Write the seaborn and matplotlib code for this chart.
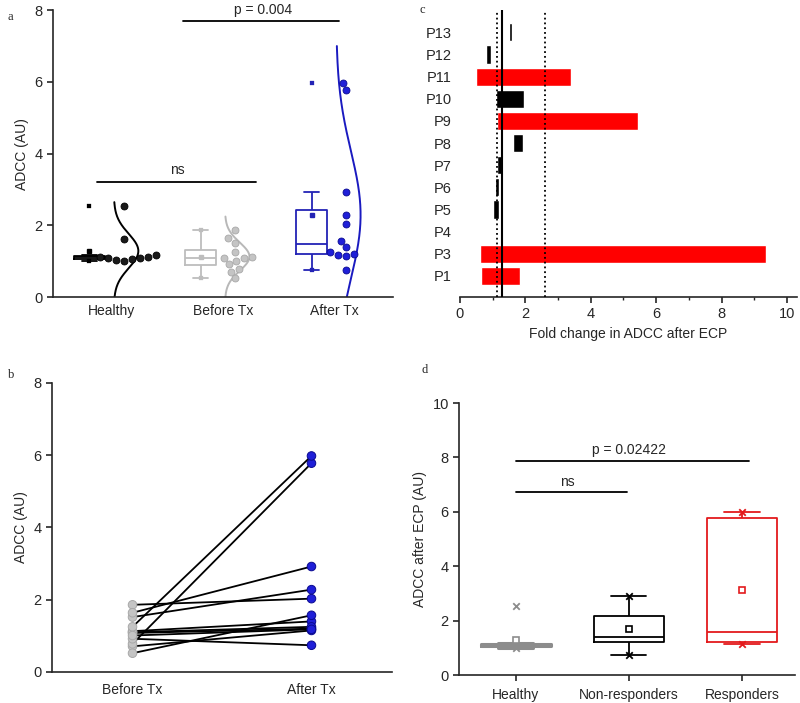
import numpy as np
import pandas as pd
import matplotlib
matplotlib.use('Agg')
import matplotlib.pyplot as plt
import seaborn as sns

# --- data ---
groups_a = ['Healthy', 'Before Tx', 'After Tx']
healthy = [2.55, 1.62, 1.13, 1.08, 1.03, 1.16, 1.12, 1.05, 1.10, 1.00]

patients = ['P1', 'P3', 'P4', 'P5', 'P6', 'P7', 'P8', 'P9', 'P10', 'P11', 'P12', 'P13']
before_tx = [0.71, 0.78, 1.08, 1.86, 1.13, 1.10, 1.52, 1.25, 1.64, 0.52, 0.92, 1.01]
after_tx = [1.15, 5.78, 1.20, 2.03, 1.40, 1.25, 2.28, 5.98, 2.92, 1.57, 0.74, 1.18]
responder = [True, True, True, False, False, False, False, True, False, True, False, False]

# panel c: floating bars of fold change
fc_start = [0.65, 0.62, 1.10, 1.00, 1.07, 1.12, 1.61, 1.14, 1.10, 0.49, 0.81, 1.51]
fc_end = [1.85, 9.36, 1.13, 1.18, 1.19, 1.30, 1.92, 5.43, 1.95, 3.40, 0.94, 1.60]
fc_dotted = [1.13, 2.6]

groups_d = ['Healthy', 'Non-responders', 'Responders']

sns.set_style('ticks')
plt.rcParams['font.family'] = ['Liberation Sans', 'DejaVu Sans']
plt.rcParams['axes.linewidth'] = 1.2

fig = plt.figure(figsize=(8, 7.03), dpi=100)
ax_a = fig.add_axes([0.066, 0.5775, 0.425, 0.408])
ax_c = fig.add_axes([0.575, 0.5775, 0.421, 0.408])
ax_b = fig.add_axes([0.065, 0.0441, 0.425, 0.4111])
ax_d = fig.add_axes([0.574, 0.0398, 0.42, 0.3869])

# ---------------- panel a ----------------
df_a = pd.DataFrame({
    'group': ['Healthy'] * len(healthy) + ['Before Tx'] * len(before_tx) + ['After Tx'] * len(after_tx),
    'value': healthy + before_tx + after_tx,
})
pos_a = {g: i + 1 for i, g in enumerate(groups_a)}
df_a['pos'] = df_a['group'].map(pos_a)
box_col = {'Healthy': 'black', 'Before Tx': '#bdbdbd', 'After Tx': '#2323b5'}
pt_col = {'Healthy': '#1a1a1a', 'Before Tx': '#c4c4c4', 'After Tx': '#1f1fd8'}
pt_edge = {'Healthy': '#000000', 'Before Tx': '#a8a8a8', 'After Tx': '#0a0a90'}
curve_col = {'Healthy': 'black', 'Before Tx': '#b8b8b8', 'After Tx': '#1a1ac0'}

for g in groups_a:
    sub = df_a[df_a['group'] == g].copy()
    sub['xbox'] = sub['pos'] - 0.2
    sub['xpt'] = sub['pos'] + 0.11
    c = box_col[g]
    sns.boxplot(data=sub, x='xbox', y='value', native_scale=True, fill=False,
                color=c, width=0.28, linewidth=1.3, showfliers=False,
                showmeans=True,
                meanprops=dict(marker='s', markersize=2.5, markerfacecolor=c,
                               markeredgecolor=c),
                ax=ax_a)
    ext = pd.DataFrame({'x': [sub['xbox'].iloc[0]] * 2,
                        'y': [sub['value'].min(), sub['value'].max()]})
    sns.scatterplot(data=ext, x='x', y='y', marker='s', s=6, color=c,
                    edgecolor=c, ax=ax_a, zorder=3)
    # normal distribution curve from the group's mean / sd
    m, s = sub['value'].mean(), sub['value'].std()
    yy = np.linspace(max(0, m - 2.85 * s), min(7.0, m + 2.85 * s), 200)
    xx = sub['pos'].iloc[0] + 0.02 + 0.22 * np.exp(-0.5 * ((yy - m) / s) ** 2)
    ax_a.plot(xx, yy, color=curve_col[g], lw=1.4, zorder=2)
    sns.swarmplot(data=sub, x='xpt', y='value', native_scale=True,
                  color=pt_col[g], edgecolor=pt_edge[g], linewidth=0.6,
                  size=5.0, ax=ax_a, zorder=4)

ax_a.set_xlim(0.47, 3.53)
ax_a.set_ylim(0, 8)
ax_a.set_yticks([0, 2, 4, 6, 8])
ax_a.set_xticks([1, 2, 3])
ax_a.set_xticklabels(groups_a)
ax_a.tick_params(axis='x', length=0, labelsize=10, pad=5)
ax_a.tick_params(axis='y', length=4, width=1.2, labelsize=10.5)
ax_a.set_xlabel('')
ax_a.set_ylabel('ADCC (AU)', fontsize=10)
sns.despine(ax=ax_a)
ax_a.plot([0.87, 2.30], [3.2, 3.2], color='black', lw=1.3, clip_on=False)
ax_a.text(1.59, 3.35, 'ns', ha='center', va='bottom', fontsize=10)
ax_a.plot([1.64, 3.05], [7.7, 7.7], color='black', lw=1.3, clip_on=False)
ax_a.text(2.36, 7.82, 'p = 0.004', ha='center', va='bottom', fontsize=10)

# ---------------- panel b ----------------
df_b = pd.DataFrame({
    'patient': patients * 2,
    'stage': ['Before Tx'] * len(patients) + ['After Tx'] * len(patients),
    'value': before_tx + after_tx,
})
df_b['pos'] = df_b['stage'].map({'Before Tx': 0, 'After Tx': 1})
sns.lineplot(data=df_b, x='pos', y='value', units='patient', estimator=None,
             color='black', lw=1.3, ax=ax_b, zorder=2)
sns.scatterplot(data=df_b, x='pos', y='value', hue='stage',
                palette={'Before Tx': '#c4c4c4', 'After Tx': '#1f1fd8'},
                s=38, linewidth=0.7, edgecolor=['#a8a8a8'] * 12 + ['#0a0a90'] * 12,
                legend=False, ax=ax_b, zorder=3)
ax_b.set_xlim(-0.45, 1.45)
ax_b.set_ylim(0, 8)
ax_b.set_yticks([0, 2, 4, 6, 8])
ax_b.set_xticks([0, 1])
ax_b.set_xticklabels(['Before Tx', 'After Tx'])
ax_b.tick_params(axis='x', length=0, labelsize=10, pad=8)
ax_b.tick_params(axis='y', length=4, width=1.2, labelsize=10.5)
ax_b.set_xlabel('')
ax_b.set_ylabel('ADCC (AU)', fontsize=10)
sns.despine(ax=ax_b)

# ---------------- panel c ----------------
bar_cols = ['#ff0000' if r else 'black' for r in responder]
ypos = np.arange(len(patients))
ax_c.barh(ypos, np.array(fc_end) - np.array(fc_start), left=fc_start,
          height=0.82, color=bar_cols, zorder=2)
ax_c.axvline(np.mean(healthy), color='black', lw=1.5, zorder=3)
for v in fc_dotted:
    ax_c.axvline(v, color='black', lw=1.3, ls=':', zorder=3)
ax_c.set_xlim(0, 10.3)
ax_c.set_ylim(-0.95, 12.0)
ax_c.set_yticks(ypos)
ax_c.set_yticklabels(patients)
ax_c.set_xticks([0, 2, 4, 6, 8, 10])
ax_c.set_xticks([1, 3, 5, 7, 9], minor=True)
ax_c.tick_params(axis='y', length=0, labelsize=10.5, pad=6)
ax_c.tick_params(axis='x', which='major', length=4, width=1.2, labelsize=10.5)
ax_c.tick_params(axis='x', which='minor', length=2.5, width=1.0)
ax_c.set_xlabel('Fold change in ADCC after ECP', fontsize=10)
sns.despine(ax=ax_c, left=True)

# ---------------- panel d ----------------
after_arr = np.array(after_tx)
resp_arr = np.array(responder)
df_d = pd.DataFrame({
    'group': ['Healthy'] * len(healthy)
             + ['Non-responders'] * int((~resp_arr).sum())
             + ['Responders'] * int(resp_arr.sum()),
    'value': healthy + list(after_arr[~resp_arr]) + list(after_arr[resp_arr]),
})
pos_d = {g: i for i, g in enumerate(groups_d)}
df_d['pos'] = df_d['group'].map(pos_d)
col_d = {'Healthy': '#8c8c8c', 'Non-responders': 'black', 'Responders': '#e31a1c'}
for g in groups_d:
    sub = df_d[df_d['group'] == g]
    c = col_d[g]
    sns.boxplot(data=sub, x='pos', y='value', native_scale=True, fill=False,
                color=c, width=0.62, linewidth=1.3 if g != 'Healthy' else 2.2,
                showfliers=False, showmeans=True,
                meanprops=dict(marker='s', markersize=4, markerfacecolor='white',
                               markeredgecolor=c, markeredgewidth=1.2),
                ax=ax_d)
    ext = pd.DataFrame({'x': [pos_d[g]] * 2,
                        'y': [sub['value'].min(), sub['value'].max()]})
    sns.scatterplot(data=ext, x='x', y='y', marker='x', s=22, color=c,
                    linewidth=1.3, ax=ax_d, zorder=3)
ax_d.set_xlim(-0.5, 2.47)
ax_d.set_ylim(0, 10)
ax_d.set_yticks([0, 2, 4, 6, 8, 10])
ax_d.set_xticks([0, 1, 2])
ax_d.set_xticklabels(groups_d)
ax_d.tick_params(axis='x', length=4, width=1.2, labelsize=10, pad=5)
ax_d.tick_params(axis='y', length=4, width=1.2, labelsize=10.5)
ax_d.set_xlabel('')
ax_d.set_ylabel('ADCC after ECP (AU)', fontsize=10)
sns.despine(ax=ax_d)
ax_d.plot([0, 0.98], [6.72, 6.72], color='black', lw=1.3)
ax_d.text(0.46, 6.85, 'ns', ha='center', va='bottom', fontsize=10)
ax_d.plot([0, 2.06], [7.88, 7.88], color='black', lw=1.3)
ax_d.text(1.0, 8.0, 'p = 0.02422', ha='center', va='bottom', fontsize=10)

# panel letters
for lbl, (x, y) in {'a': (0.01, 0.985), 'c': (0.525, 0.995),
                    'b': (0.01, 0.475), 'd': (0.527, 0.482)}.items():
    fig.text(x, y, lbl, family='Liberation Serif', fontsize=9, va='top')

fig.savefig('out.png', dpi=100)
